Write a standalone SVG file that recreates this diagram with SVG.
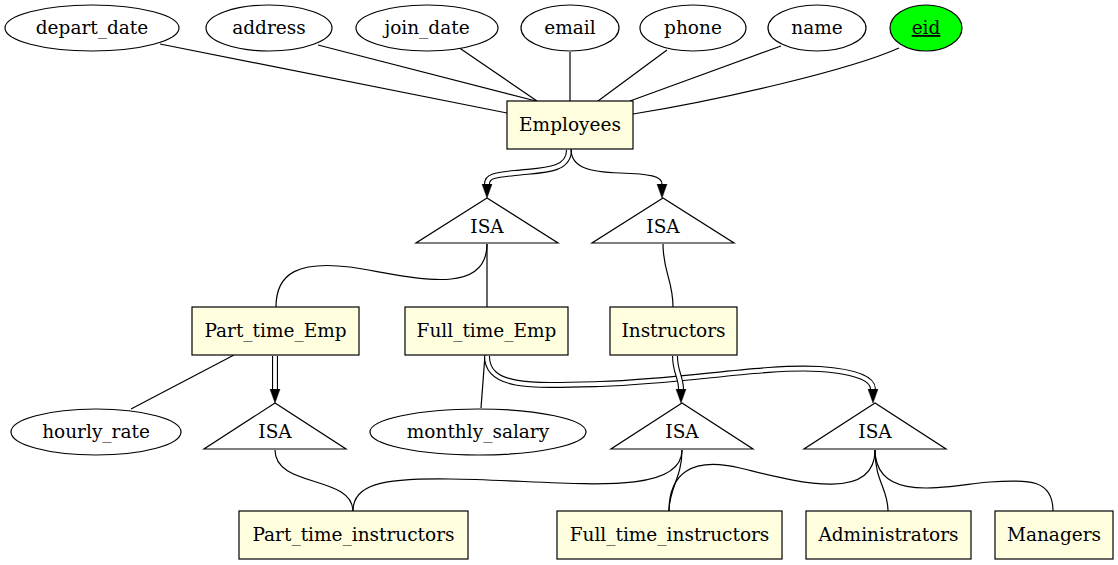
<svg xmlns="http://www.w3.org/2000/svg" width="1118" height="565" viewBox="0 0 1118 565">
<style>
text{font-family:"DejaVu Serif","Liberation Serif",serif;font-size:18.5px;text-anchor:middle;fill:#000}
.ent{fill:#ffffe0;stroke:#000;stroke-width:1.2}
.att{fill:#fff;stroke:#000;stroke-width:1.2}
.key{fill:#00ff00;stroke:#000;stroke-width:1.2}
.isa{fill:#fff;stroke:#000;stroke-width:1.2}
.e{fill:none;stroke:#000;stroke-width:1.2}
.d1{fill:none;stroke:#000;stroke-width:6}
.d2{fill:none;stroke:#fff;stroke-width:3.8}
</style>
<defs>
<marker id="ah" markerUnits="userSpaceOnUse" markerWidth="15" markerHeight="12" refX="0" refY="6" orient="auto">
<path d="M0,1 L14,6 L0,11 z" fill="#000" stroke="#000" stroke-width="0.5"/>
</marker>
</defs>
<rect width="1118" height="565" fill="#fff"/>
<g id="connectors">
<path class="e" d="M160,44 L507,113"/>
<path class="e" d="M318,45 L536,101"/>
<path class="e" d="M458,47 L537,101"/>
<path class="e" d="M570,52 L570,101"/>
<path class="e" d="M667,50 L598,101"/>
<path class="e" d="M781,46 L630,101"/>
<path class="e" d="M899,48 C850,70 720,100 633,114"/>
<path class="d1" d="M569,150 C569,172 540,170 515,173 C495,175 487,176 487,184" marker-end="url(#ah)"/>
<path class="d2" d="M569,150 C569,172 540,170 515,173 C495,175 487,176 487,184"/>
<path class="e" d="M571,149 C571,168 590,172 620,173 C650,174 662,176 662,184" marker-end="url(#ah)"/>
<path class="e" d="M487,244 C487,300 405,275 350,267 C300,261 276,272 276,307"/>
<path class="e" d="M487,244 L487,307"/>
<path class="e" d="M663,244 C663,272 673,280 673,307"/>
<path class="e" d="M234,355 L131,409"/>
<path class="d1" d="M275,356 L275,389" marker-end="url(#ah)"/>
<path class="d2" d="M275,356 L275,389"/>
<path class="e" d="M485,355 L481,408"/>
<path class="d1" d="M487,356 C487,388 530,386 600,384 C690,381 760,366 820,369 C862,372 873,381 873,389" marker-end="url(#ah)"/>
<path class="d2" d="M487,356 C487,388 530,386 600,384 C690,381 760,366 820,369 C862,372 873,381 873,389"/>
<path class="d1" d="M675,356 C675,372 681,377 681,389" marker-end="url(#ah)"/>
<path class="d2" d="M675,356 C675,372 681,377 681,389"/>
<path class="e" d="M275,450 C275,488 352,475 353,511"/>
<path class="e" d="M682,450 C682,500 560,480 450,479 C380,478 353,485 353,511"/>
<path class="e" d="M682,450 C682,478 669,488 669,511"/>
<path class="e" d="M875,450 C875,505 790,480 740,468 C690,456 669,475 669,511"/>
<path class="e" d="M875,450 C875,482 888,488 888,511"/>
<path class="e" d="M875,450 C876,505 950,485 990,482 C1030,479 1053,480 1053,511"/>
</g>
<g id="depart_date"><ellipse class="att" cx="92" cy="28" rx="87" ry="23"/><text x="92" y="34">depart_date</text></g>
<g id="address"><ellipse class="att" cx="269" cy="28" rx="63" ry="23"/><text x="269" y="34">address</text></g>
<g id="join_date"><ellipse class="att" cx="427" cy="28" rx="71" ry="23"/><text x="427" y="34">join_date</text></g>
<g id="email"><ellipse class="att" cx="570" cy="28" rx="49" ry="23"/><text x="570" y="34">email</text></g>
<g id="phone"><ellipse class="att" cx="693" cy="28" rx="53" ry="23"/><text x="693" y="34">phone</text></g>
<g id="name"><ellipse class="att" cx="817" cy="28" rx="49" ry="23"/><text x="817" y="34">name</text></g>
<g id="eid"><ellipse class="key" cx="926" cy="28" rx="36" ry="23"/><text x="926" y="34" text-decoration="underline">eid</text></g>
<g id="Employees"><rect class="ent" x="507" y="101" width="126" height="48"/><text x="570" y="131">Employees</text></g>
<g id="isa1"><polygon class="isa" points="487,198 416,243 558,243"/><text x="487" y="233">ISA</text></g>
<g id="isa2"><polygon class="isa" points="663,198 592,243 734,243"/><text x="663" y="233">ISA</text></g>
<g id="Part_time_Emp"><rect class="ent" x="192" y="307" width="167" height="48"/><text x="275.5" y="337">Part_time_Emp</text></g>
<g id="Full_time_Emp"><rect class="ent" x="405" y="307" width="163" height="48"/><text x="486.5" y="337">Full_time_Emp</text></g>
<g id="Instructors"><rect class="ent" x="610" y="307" width="127" height="48"/><text x="673.5" y="337">Instructors</text></g>
<g id="hourly_rate"><ellipse class="att" cx="96" cy="432" rx="85" ry="23"/><text x="96" y="438">hourly_rate</text></g>
<g id="isa3"><polygon class="isa" points="275,403 204,449 346,449"/><text x="275" y="438">ISA</text></g>
<g id="monthly_salary"><ellipse class="att" cx="478" cy="432" rx="108" ry="23"/><text x="478" y="438">monthly_salary</text></g>
<g id="isa4"><polygon class="isa" points="682,403 611,449 753,449"/><text x="682" y="438">ISA</text></g>
<g id="isa5"><polygon class="isa" points="875,403 804,449 946,449"/><text x="875" y="438">ISA</text></g>
<g id="Part_time_instructors"><rect class="ent" x="239" y="511" width="229" height="48"/><text x="353.5" y="541">Part_time_instructors</text></g>
<g id="Full_time_instructors"><rect class="ent" x="557" y="511" width="225" height="48"/><text x="669.5" y="541">Full_time_instructors</text></g>
<g id="Administrators"><rect class="ent" x="806" y="511" width="165" height="48"/><text x="888.5" y="541">Administrators</text></g>
<g id="Managers"><rect class="ent" x="995" y="511" width="118" height="48"/><text x="1054" y="541">Managers</text></g>
</svg>
